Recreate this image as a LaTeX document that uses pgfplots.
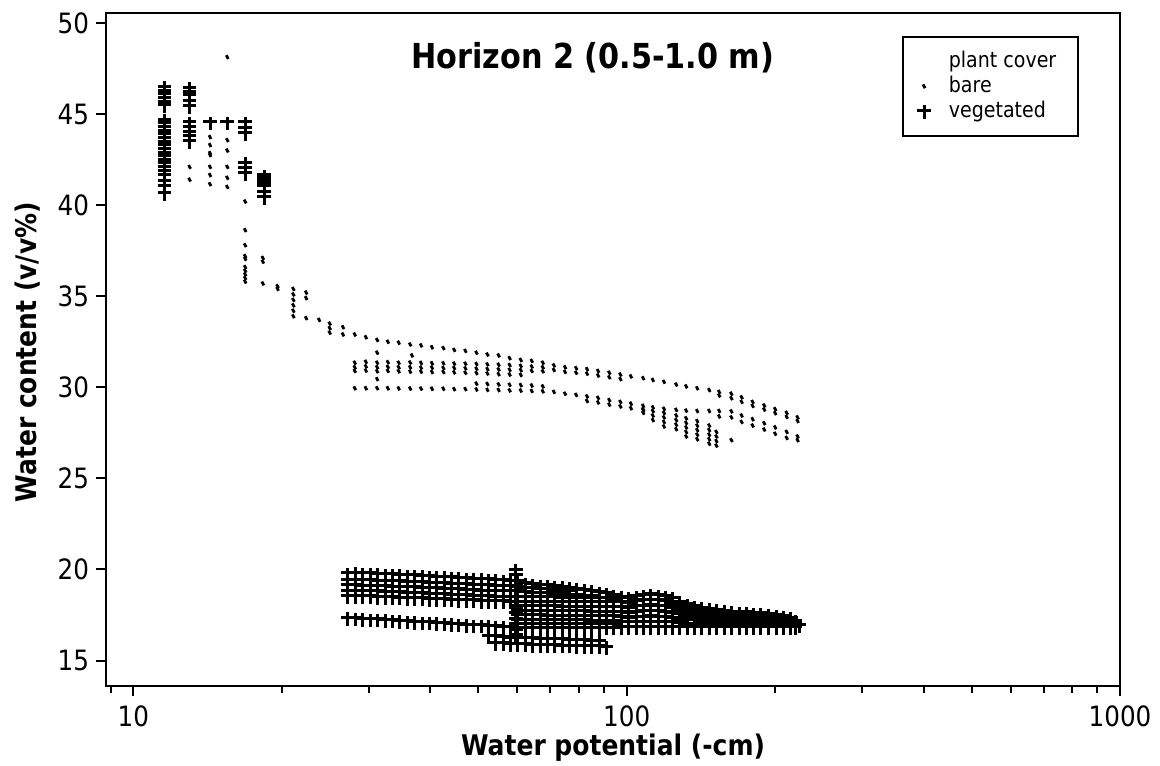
\documentclass[border=0pt]{standalone}
\usepackage{pgfplots}
\usepackage{pgfplotstable}
\pgfplotsset{compat=1.18}
\usepackage{fontspec}
\setmainfont{DejaVu Sans}[FakeStretch=0.88]

\pgfdeclareplotmark{bare}{%
  \pgfsetlinewidth{1.4pt}%
  \pgfpathmoveto{\pgfqpoint{-0.5pt}{0.95pt}}%
  \pgfpathlineto{\pgfqpoint{0.5pt}{-0.95pt}}%
  \pgfusepathqstroke}
\pgfdeclareplotmark{veg}{%
  \pgfsetlinewidth{1.5pt}%
  \pgfpathmoveto{\pgfqpoint{-3.4pt}{0.6pt}}%
  \pgfpathlineto{\pgfqpoint{3.4pt}{0.6pt}}%
  \pgfpathmoveto{\pgfqpoint{0pt}{-3.6pt}}%
  \pgfpathlineto{\pgfqpoint{0pt}{3.1pt}}%
  \pgfusepathqstroke}

% vegetated, lower cluster, left part
\pgfplotstableread{
x A B C D E F
27.2 19.75 19.40 19.10 18.80 18.50 17.30
28.2 19.78 19.38 19.08 18.78 18.50 17.28
29.2 19.74 19.38 19.06 18.78 18.48 17.26
30.2 19.74 19.36 19.06 18.76 18.48 17.24
31.3 19.72 19.35 19.05 18.75 18.46 17.22
32.4 19.70 19.34 19.04 18.74 18.45 17.20
33.5 19.70 19.32 19.02 18.72 18.44 17.17
34.7 19.67 19.30 19.00 18.70 18.42 17.14
35.9 19.65 19.29 18.99 18.69 18.40 17.12
37.2 19.64 19.27 18.97 18.67 18.39 17.09
38.5 19.61 19.25 18.95 18.65 18.37 17.07
39.8 19.60 19.24 18.94 18.64 18.36 17.05
41.2 19.57 19.22 18.92 18.62 18.34 17.03
42.7 19.55 19.20 18.90 18.60 18.33 17.00
44.2 19.52 19.18 18.88 18.58 18.31 16.98
45.7 19.50 19.16 18.86 18.56 18.30 16.96
47.3 19.48 19.14 18.84 18.54 18.28 16.93
49.0 19.46 19.12 18.82 18.52 18.27 16.91
50.7 19.44 19.10 18.80 18.50 18.25 16.89
52.5 19.42 19.09 18.79 18.49 18.24 16.87
54.3 19.40 19.07 18.77 18.47 18.22 16.85
56.2 19.37 19.06 18.76 18.46 18.21 16.82
58.2 19.35 19.05 18.75 18.45 18.20 16.80
}\veglowleft

% vegetated, lowest rows
\pgfplotstableread{
x F G
52.5 16.30 nan
54.3 16.28 15.92
56.2 16.25 15.90
58.2 16.22 15.88
60.2 16.20 15.86
62.3 16.20 15.85
64.5 16.18 15.83
66.8 16.16 15.82
69.1 16.15 15.80
71.5 16.13 15.80
74.0 16.12 15.78
76.6 16.10 15.78
79.3 16.08 15.76
82.1 16.06 15.76
85.0 16.05 15.74
88.0 16.03 15.74
91.0 nan 15.72
}\veglowbottom

% vegetated, lower cluster, right part
\pgfplotstableread{
x T S U V W Z M1 M2 M3 M4 M5
60.2 19.30 18.75 18.20 17.70 17.20 16.75 19.02 18.45 17.95 17.45 16.97
62.3 19.20 18.70 18.20 17.70 17.20 16.75 18.95 18.45 17.95 17.45 16.97
64.5 19.15 18.68 18.19 17.69 17.19 16.75 18.92 18.44 17.94 17.44 16.97
66.8 19.10 18.65 18.19 17.69 17.19 16.75 18.88 18.44 17.94 17.44 16.97
69.1 19.10 18.65 18.18 17.68 17.18 16.75 18.88 18.43 17.93 17.43 16.97
71.5 19.05 18.62 18.18 17.68 17.18 16.75 18.84 18.43 17.93 17.43 16.97
74.0 19.00 18.60 18.17 17.67 17.17 16.75 18.80 18.42 17.92 17.42 16.97
76.6 18.95 18.58 18.17 17.67 17.17 16.75 18.77 18.42 17.92 17.42 16.97
79.3 18.90 18.55 18.16 17.66 17.16 16.76 nan 18.41 17.91 17.41 16.97
82.1 18.85 18.52 18.16 17.66 17.16 16.76 nan 18.41 17.91 17.41 16.97
85.0 18.80 18.50 18.15 17.65 17.15 16.76 nan 18.40 17.90 17.40 16.97
88.0 18.70 nan 18.15 17.65 17.15 16.76 nan 18.42 17.90 17.40 16.97
91.0 18.65 nan 18.15 17.65 17.15 16.77 nan 18.40 17.90 17.40 16.97
94.2 18.55 nan 18.15 17.65 17.15 16.77 nan 18.35 17.90 17.40 16.97
97.5 18.45 nan 17.89 17.34 nan 16.78 18.17 17.62 17.06 nan nan
101 18.40 nan 17.86 17.32 nan 16.78 18.13 17.59 17.05 nan nan
104.5 18.50 nan 17.93 17.35 nan 16.78 18.22 17.64 17.07 nan nan
108 18.55 nan 17.96 17.37 nan 16.78 18.26 17.67 17.08 nan nan
112 18.60 nan 17.99 17.39 nan 16.78 18.30 17.69 17.09 nan nan
116 18.55 nan 17.96 17.37 nan 16.78 18.26 17.67 17.08 nan nan
120 18.50 nan 17.93 17.35 nan 16.78 18.22 17.64 17.07 nan nan
124 18.40 nan 17.86 17.32 nan 16.78 18.13 17.59 17.05 nan nan
128 18.20 nan 17.73 17.25 nan 16.78 17.97 17.49 17.02 nan nan
133 18.05 nan 17.63 17.20 nan 16.78 17.84 17.42 16.99 nan nan
137 17.95 nan 17.56 17.17 nan 16.78 17.76 17.37 16.98 nan nan
142 17.85 nan 17.49 17.14 nan 16.78 17.67 17.32 16.96 nan nan
147 17.80 nan 17.46 17.12 nan 16.78 17.63 17.29 16.95 nan nan
152 17.75 nan 17.43 17.10 nan 16.78 17.59 17.27 16.94 nan nan
158 17.70 nan 17.39 17.09 nan 16.78 17.55 17.24 16.94 nan nan
163 17.65 nan 17.36 17.07 nan 16.78 17.51 17.22 16.93 nan nan
169 17.60 nan 17.33 17.05 nan 16.78 17.47 17.19 16.92 nan nan
175 17.60 nan 17.33 17.05 nan 16.78 17.47 17.19 16.92 nan nan
181 17.55 nan 17.29 17.04 nan 16.78 17.42 17.17 16.91 nan nan
187 17.55 nan 17.29 17.04 nan 16.78 17.42 17.17 16.91 nan nan
194 17.50 nan 17.26 17.02 nan 16.78 17.38 17.14 16.90 nan nan
201 17.45 nan 17.22 17.00 nan 16.78 17.34 17.11 16.89 nan nan
208 17.40 nan nan 17.09 nan 16.78 17.25 nan 16.94 nan nan
215 17.30 nan nan 17.04 nan 16.78 17.17 nan 16.91 nan nan
220 17.15 nan nan nan nan 16.80 16.98 nan nan nan nan
224 16.90 nan nan nan nan nan nan nan nan nan nan
}\veglowright

% bare, bands
\pgfplotstableread{
x U U2 M1 M2 M3 L L2
28.1 32.90 nan 31.35 31.10 30.90 29.95 nan
29.6 32.75 nan 31.40 31.15 30.92 29.95 nan
31.2 32.60 nan 31.35 31.10 30.88 29.95 nan
32.8 32.50 nan 31.38 31.12 30.90 29.95 nan
34.5 32.45 nan 31.35 31.10 30.88 29.94 nan
36.4 32.35 nan 31.36 31.10 30.86 29.93 nan
38.3 32.30 nan 31.34 31.08 30.86 29.93 nan
40.3 32.20 nan 31.32 31.08 30.84 29.92 nan
42.5 32.15 nan 31.32 31.06 30.84 29.92 nan
44.7 32.05 nan 31.30 31.06 30.82 29.90 nan
47.1 32.00 nan 31.30 31.04 30.80 29.90 nan
49.6 31.90 nan 31.28 31.02 30.78 29.88 30.20
52.2 31.80 nan 31.26 31.00 30.76 29.86 30.18
55.0 31.75 nan 31.24 30.98 30.72 29.85 30.16
57.9 31.60 nan 31.22 30.96 30.70 29.83 30.14
61.0 31.50 nan 31.18 30.94 30.68 29.82 30.12
64.2 31.45 nan 31.14 30.90 nan 29.80 30.10
67.6 31.35 nan 31.10 30.88 nan 29.78 30.05
71.2 31.20 30.95 nan nan nan 29.75 nan
75.0 31.10 30.85 nan nan nan 29.65 nan
79.0 31.05 30.80 nan nan nan 29.58 nan
83.1 31.00 30.75 nan nan nan 29.50 29.25
87.5 30.90 30.65 nan nan nan 29.42 29.17
92.2 30.80 30.55 nan nan nan 29.30 29.05
97.1 30.70 30.45 nan nan nan 29.20 28.95
102 30.60 nan nan nan nan 29.10 28.85
108 30.50 nan nan nan nan 28.98 28.75
113 30.40 nan nan nan nan 28.90 nan
119 30.30 nan nan nan nan 28.82 nan
126 30.15 nan nan nan nan 28.76 nan
132 30.05 nan nan nan nan 28.72 nan
139 29.95 nan nan nan nan 28.70 nan
147 29.85 nan nan nan nan 28.70 nan
154 29.75 29.55 nan nan nan 28.70 28.40
163 29.65 29.40 nan nan nan 28.68 28.35
171 29.45 29.20 nan nan nan 28.45 28.10
180 29.20 28.98 nan nan nan 28.25 27.90
190 29.00 28.78 nan nan nan 28.03 27.68
200 28.80 28.58 nan nan nan 27.80 27.45
211 28.60 28.38 nan nan nan 27.55 27.22
222 28.35 28.15 nan nan nan 27.30 27.10
}\bareband

\begin{document}
\begin{tikzpicture}
\useasboundingbox (-53pt,-39.5pt) rectangle (527pt,343pt);
\begin{axis}[
  at={(0,0)}, anchor=south west,
  scale only axis, width=507pt, height=336.5pt,
  xmode=log, xmin=8.8, xmax=1000, ymin=13.6, ymax=50.55,
  xtick={10,100,1000}, xticklabels={10,100,1000},
  minor xtick={9,20,30,40,50,60,70,80,90,200,300,400,500,600,700,800,900},
  ytick={15,20,25,30,35,40,45,50},
  yticklabels={15,20,25,30,35,40,45,50},
  tick pos=left, tick align=outside,
  major tick length=5pt, minor tick length=3.5pt,
  axis line style={line width=1pt},
  every tick/.style={line width=1pt, black},
  tick label style={font=\fontsize{14}{16}\selectfont},
  xticklabel style={yshift=-1.5pt},
  xlabel={\bfseries Water potential (-cm)},
  ylabel={\bfseries Water content (v/v\%)},
  label style={font=\fontsize{14.2}{17}\selectfont},
  xlabel style={at={(axis description cs:0.5,-0.091)}, anchor=center},
  ylabel style={at={(axis description cs:-0.077,0.496)}, anchor=center},
  legend style={at={(0.9596,0.9658)}, anchor=north east, draw=black, line width=0.8pt,
    font=\fontsize{10.8}{13}\selectfont, inner xsep=2pt, inner ysep=6pt, row sep=0pt, column sep=8pt,
    nodes={inner sep=1pt, text height=8.2pt, text depth=2.3pt}},
  legend cell align=left,
]
\addlegendimage{empty legend}
\addlegendentry{plant cover\hspace*{8pt}}

% ---------------- bare ----------------
\pgfplotsset{barem/.style={only marks, mark=bare, forget plot}}
\addplot[only marks, mark=bare] coordinates {
(13.0,42.1)(13.0,41.4)
(14.3,43.74)(14.3,43.3)(14.3,42.86)(14.3,42.75)(14.3,42.1)(14.3,41.65)(14.3,41.15)
(15.5,48.13)(15.5,43.57)(15.5,43.0)(15.5,42.1)(15.5,41.5)(15.5,41.0)
(16.85,40.2)(16.85,38.63)(16.85,37.8)(16.85,37.2)(16.85,37.05)(16.85,36.6)(16.85,36.4)(16.85,36.2)(16.85,36.0)(16.85,35.8)
(18.3,37.1)(18.3,36.9)(18.3,35.7)
(19.6,35.55)(19.6,35.4)
(21.1,35.4)(21.1,35.1)(21.1,34.8)(21.1,34.5)(21.1,34.2)(21.1,33.9)
(22.4,35.2)(22.4,34.9)(22.4,33.8)
(23.8,33.7)
(25.0,33.5)(25.0,33.25)(25.0,33.0)
(26.6,33.3)(26.6,32.9)
(31.2,31.9)(31.2,30.45)(36.7,31.75)
(108,28.8)(108,28.6)
(113,28.7)(113,28.45)(113,28.2)
(119,28.6)(119,28.35)(119,28.1)(119,27.85)
(126,28.45)(126,28.2)(126,27.95)(126,27.7)
(132,28.3)(132,28.05)(132,27.8)(132,27.55)(132,27.3)
(139,28.15)(139,27.9)(139,27.65)(139,27.4)(139,27.15)
(147,27.9)(147,27.65)(147,27.4)(147,27.15)(147,26.9)
(152,27.55)(152,27.3)(152,27.05)(152,26.8)
(163,27.1)
};
\addlegendentry{bare}
\addplot[barem] table[x=x,y=U] {\bareband};
\addplot[barem] table[x=x,y=U2] {\bareband};
\addplot[barem] table[x=x,y=M1] {\bareband};
\addplot[barem] table[x=x,y=M2] {\bareband};
\addplot[barem] table[x=x,y=M3] {\bareband};
\addplot[barem] table[x=x,y=L] {\bareband};
\addplot[barem] table[x=x,y=L2] {\bareband};

% ---------------- vegetated ----------------
\addplot[only marks, mark=veg] coordinates {
(11.56,46.45)(11.56,46.25)(11.56,46.05)(11.56,45.85)(11.56,45.65)(11.56,45.45)
(11.56,44.65)(11.56,44.45)(11.56,44.25)(11.56,44.05)(11.56,43.85)(11.56,43.65)(11.56,43.45)(11.56,43.25)(11.56,43.05)(11.56,42.85)(11.56,42.65)(11.56,42.45)(11.56,42.25)(11.56,42.05)(11.56,41.85)(11.56,41.6)(11.56,41.3)(11.56,41.0)(11.56,40.65)
(12.99,46.4)(12.99,46.2)(12.99,46.0)(12.99,45.7)(12.99,45.4)
(12.99,44.5)(12.99,44.25)(12.99,44.0)(12.99,43.75)(12.99,43.5)
(14.3,44.5)(15.5,44.5)
(16.85,44.5)(16.85,44.2)(16.85,43.9)(16.85,42.3)(16.85,42.0)(16.85,41.7)
(18.4,41.6)(18.4,41.45)(18.4,41.3)(18.4,41.15)(18.4,41.0)(18.4,40.7)(18.4,40.4)
(59.6,19.95)(59.6,19.65)(59.6,19.35)(59.6,19.05)(59.6,18.75)(59.6,18.45)(59.6,18.15)(59.6,17.85)(59.6,17.55)(59.6,17.25)(59.6,16.95)(59.6,16.65)(59.6,16.35)
};
\addlegendentry{vegetated}
\pgfplotsset{vegm/.style={only marks, mark=veg, forget plot}}
\addplot[vegm] table[x=x,y=A] {\veglowleft};
\addplot[vegm] table[x=x,y=B] {\veglowleft};
\addplot[vegm] table[x=x,y=C] {\veglowleft};
\addplot[vegm] table[x=x,y=D] {\veglowleft};
\addplot[vegm] table[x=x,y=E] {\veglowleft};
\addplot[vegm] table[x=x,y=F] {\veglowleft};
\addplot[vegm] table[x=x,y=F] {\veglowbottom};
\addplot[vegm] table[x=x,y=G] {\veglowbottom};
\addplot[vegm] table[x=x,y=T] {\veglowright};
\addplot[vegm] table[x=x,y=S] {\veglowright};
\addplot[vegm] table[x=x,y=U] {\veglowright};
\addplot[vegm] table[x=x,y=V] {\veglowright};
\addplot[vegm] table[x=x,y=W] {\veglowright};
\addplot[vegm] table[x=x,y=Z] {\veglowright};
\addplot[vegm] table[x=x,y=M1] {\veglowright};
\addplot[vegm] table[x=x,y=M2] {\veglowright};
\addplot[vegm] table[x=x,y=M3] {\veglowright};
\addplot[vegm] table[x=x,y=M4] {\veglowright};
\addplot[vegm] table[x=x,y=M5] {\veglowright};

\node[font=\fontsize{17.2}{20}\selectfont\bfseries] at (rel axis cs:0.48,0.933) {Horizon 2 (0.5-1.0 m)};
\end{axis}
\end{tikzpicture}
\end{document}
